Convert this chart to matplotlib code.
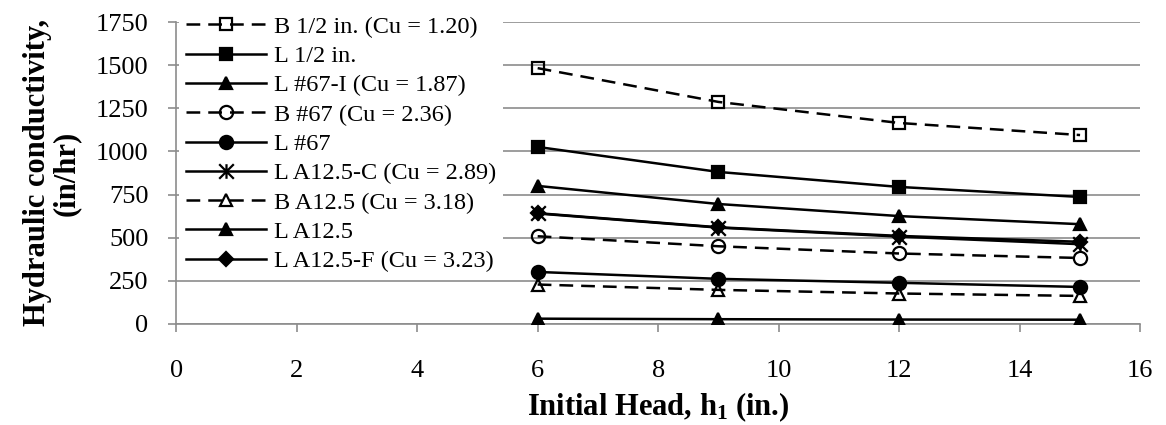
import matplotlib
matplotlib.use("Agg")
import matplotlib.pyplot as plt
from matplotlib.path import Path

plt.rcParams['font.family'] = ['Liberation Serif', 'DejaVu Serif']
plt.rcParams['mathtext.fontset'] = 'custom'
plt.rcParams['mathtext.rm'] = 'Liberation Serif'
plt.rcParams['mathtext.bf'] = 'Liberation Serif:bold'

heads = [6, 9, 12, 15]
b_half = [1483, 1287, 1165, 1095]
l_half = [1026, 881, 794, 736]
l_67i = [800, 695, 625, 578]
b_67 = [508, 450, 408, 382]
l_67 = [301, 261, 238, 214]
l_a125c = [640, 558, 506, 462]
b_a125 = [228, 197, 176, 162]
l_a125 = [30, 27, 25, 24]
l_a125f = [642, 560, 510, 476]

labels = ["B 1/2 in. (Cu = 1.20)", "L 1/2 in.", "L #67-I (Cu = 1.87)",
          "B #67 (Cu = 2.36)", "L #67", "L A12.5-C (Cu = 2.89)",
          "B A12.5 (Cu = 3.18)", "L A12.5", "L A12.5-F (Cu = 3.23)"]
yticks = [0, 250, 500, 750, 1000, 1250, 1500, 1750]
xticks = [0, 2, 4, 6, 8, 10, 12, 14, 16]

star = Path([(-1, -1), (1, 1), (-1, 1), (1, -1), (0, -1), (0, 1)],
            [Path.MOVETO, Path.LINETO, Path.MOVETO, Path.LINETO,
             Path.MOVETO, Path.LINETO])

fig = plt.figure(figsize=(11.66, 4.25), dpi=100)
ax = fig.add_axes([0.151, 0.238, 0.827, 0.71])

dash = (0, (5.5, 3.2))
series = [
    (b_half, 's', 'none', dash),
    (l_half, 's', 'black', '-'),
    (l_67i, '^', 'black', '-'),
    (b_67, 'o', 'none', dash),
    (l_67, 'o', 'black', '-'),
    (l_a125c, star, 'black', '-'),
    (b_a125, '^', 'none', dash),
    (l_a125, '^', 'black', '-'),
    (l_a125f, 'D', 'black', '-'),
]
order_draw = [8, 0, 1, 2, 3, 4, 5, 6, 7]
handles = [None] * len(series)
for i in order_draw:
    vals, mk, fc, ls = series[i]
    ms = 9
    if isinstance(mk, str) and mk == 'D':
        ms = 7
    if isinstance(mk, str) and mk == 'o':
        ms = 9.5
    if isinstance(mk, Path):
        ms = 10.5
    h, = ax.plot(heads, vals, color='black', lw=1.8, linestyle=ls,
                 marker=mk, markersize=ms, markerfacecolor=fc,
                 markeredgecolor='black', markeredgewidth=1.6,
                 label=labels[i], zorder=3)
    handles[i] = h

ax.set_xlim(0, 16)
ax.set_ylim(0, 1750)
ax.set_xticks(xticks)
ax.set_yticks(yticks)
ax.yaxis.grid(True, color='#8c8c8c', lw=1.2)
ax.set_axisbelow(True)
for s in ['top', 'right']:
    ax.spines[s].set_visible(False)
for s in ['left', 'bottom']:
    ax.spines[s].set_color('#8c8c8c')
    ax.spines[s].set_linewidth(1.2)
ax.tick_params(axis='both', colors='#8c8c8c', length=6, width=1.2,
               labelsize=19, labelcolor='black', direction='out')
ax.tick_params(axis='x', pad=20)
ax.tick_params(axis='y', pad=14)

ax.set_xlabel(r"Initial Head, $\mathbf{h_1}$ (in.)", fontsize=22,
              fontweight='bold')
ax.xaxis.set_label_coords(0.5, -0.222)
ax.set_ylabel("Hydraulic conductivity,\n(in/hr)", fontsize=22,
              fontweight='bold', linespacing=1.0)
ax.yaxis.set_label_coords(-0.099, 0.5)

leg = ax.legend(handles=handles, loc='upper left', bbox_to_anchor=(0.003, 1.045),
                fontsize=17.5, frameon=True, edgecolor='none', facecolor='white',
                framealpha=1, handlelength=3.3, handletextpad=0.3,
                labelspacing=0.30, borderpad=0.3, borderaxespad=0.0)
leg.set_zorder(5)

fig.savefig("out.png", dpi=100)
